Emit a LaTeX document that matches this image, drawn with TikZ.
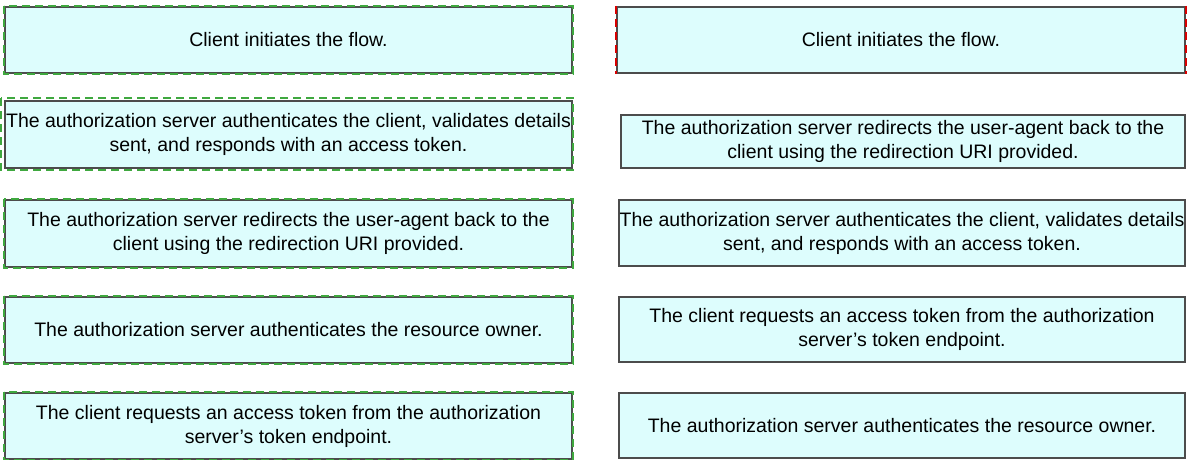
\documentclass[tikz,border=0pt]{standalone}
\usepackage{fontspec}
\setmainfont{Liberation Sans}
\definecolor{boxfill}{HTML}{DDFDFD}
\definecolor{dgreen}{HTML}{3FA83F}
\begin{document}
\begin{tikzpicture}[x=1pt,y=-1pt,
  bx/.style={draw=black!70,line width=2pt,fill=boxfill,align=center,font=\fontsize{19.5}{24}\selectfont,inner sep=0pt,anchor=north west},
  gd/.style={draw=dgreen,line width=2pt,dash pattern=on 8pt off 5pt},
  rd/.style={draw=red!85!black,line width=2pt,dash pattern=on 8pt off 5pt}]
\useasboundingbox (0,0) rectangle (1189,460);
\fill[white] (0,0) rectangle (1189,460);
% left column
\node[bx,minimum width=567pt,minimum height=66pt] (l1) at (4,6) {Client initiates the flow.};
\node[bx,minimum width=567pt,minimum height=67pt] (l2) at (4,100) {The authorization server authenticates the client, validates details\\sent, and responds with an access token.};
\node[bx,minimum width=567pt,minimum height=67pt] (l3) at (4,199) {The authorization server redirects the user-agent back to the\\client using the redirection URI provided.};
\node[bx,minimum width=567pt,minimum height=66pt] (l4) at (4,296) {The authorization server authenticates the resource owner.};
\node[bx,minimum width=567pt,minimum height=66pt] (l5) at (4,392) {The client requests an access token from the authorization\\server's token endpoint.};
\draw[gd] (l1.north west) rectangle (l1.south east);
\draw[gd] ([xshift=-3pt,yshift=2pt]l2.north west) rectangle ([yshift=-1pt]l2.south east);
\draw[gd] (l3.north west) rectangle (l3.south east);
\draw[gd] (l4.north west) rectangle (l4.south east);
\draw[gd] (l5.north west) rectangle (l5.south east);
% right column
\node[bx,minimum width=568pt,minimum height=66pt] (r1) at (616,6) {Client initiates the flow.};
\node[bx,minimum width=564pt,minimum height=53pt] (r2) at (620,114) {The authorization server redirects the user-agent back to the\\client using the redirection URI provided.};
\node[bx,minimum width=566pt,minimum height=66pt] (r3) at (618,199) {The authorization server authenticates the client, validates details\\sent, and responds with an access token.};
\node[bx,minimum width=566pt,minimum height=65pt] (r4) at (618,296) {The client requests an access token from the authorization\\server's token endpoint.};
\node[bx,minimum width=566pt,minimum height=65pt] (r5) at (618,392) {The authorization server authenticates the resource owner.};
\draw[rd] (r1.north west) -- (r1.south west);
\draw[rd] (r1.north east) -- (r1.south east);
\end{tikzpicture}
\end{document}
